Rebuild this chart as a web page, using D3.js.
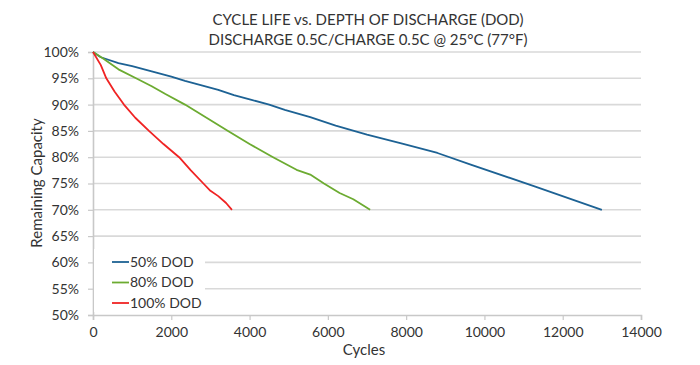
<!DOCTYPE html>
<html>
<head>
<meta charset="utf-8">
<script src="https://cdn.jsdelivr.net/npm/d3@7"></script>
<style>
  body { margin: 0; background: #fff; }
  text { font-family: Lato, "DejaVu Sans Condensed", sans-serif; fill: #333; }
</style>
</head>
<body>
<div id="chart"></div>
<script>
// DATA
const seriesNames = ["50% DOD", "80% DOD", "100% DOD"];
const seriesColors = ["#1d6294", "#6cab31", "#f02323"];

const dod50 = [
  [0, 100], [200, 99], [650, 97.9], [1000, 97.3], [1500, 96.3], [2000, 95.3],
  [2350, 94.5], [2800, 93.6], [3200, 92.8], [3600, 91.8], [4050, 90.9], [4500, 90],
  [4900, 89], [5550, 87.6], [6200, 86], [7000, 84.3], [7900, 82.6], [8800, 80.8],
  [9650, 78.6], [11300, 74.4], [13000, 70]
];
const dod80 = [
  [0, 100], [250, 98.8], [650, 96.7], [1100, 95], [1500, 93.5], [1850, 92],
  [2350, 90], [2900, 87.5], [3450, 85], [4000, 82.5], [4600, 80], [5200, 77.6],
  [5550, 76.7], [5900, 75], [6300, 73.2], [6650, 72], [7080, 70]
];
const dod100 = [
  [0, 100], [200, 97.5], [340, 95], [550, 92.5], [790, 90], [1080, 87.5],
  [1430, 85], [1800, 82.5], [2200, 80], [2500, 77.5], [2820, 75], [3000, 73.6],
  [3200, 72.6], [3400, 71.3], [3550, 70]
];
const xTicks = [0, 2000, 4000, 6000, 8000, 10000, 12000, 14000];
const yTicks = [50, 55, 60, 65, 70, 75, 80, 85, 90, 95, 100];
const titleLines = ["CYCLE LIFE vs. DEPTH OF DISCHARGE (DOD)", "DISCHARGE 0.5C/CHARGE 0.5C @ 25°C (77°F)"];

// SIZES
const width = 700, height = 365;
const margin = {top: 52, right: 59, bottom: 50, left: 93};
const innerWidth = width - margin.left - margin.right;
const innerHeight = height - margin.top - margin.bottom;

const svg = d3.select("#chart").append("svg")
  .attr("width", width)
  .attr("height", height);

// titles
svg.selectAll("text.title")
  .data(titleLines)
  .join("text")
  .attr("class", "title")
  .attr("x", 368)
  .attr("y", (d, i) => 25 + i * 20)
  .attr("text-anchor", "middle")
  .attr("font-size", 15)
  .text(d => d);

const g = svg.append("g")
  .attr("transform", "translate(" + margin.left + "," + margin.top + ")");

// SCALES
const x = d3.scaleLinear().domain([0, 14000]).range([0, innerWidth]);
const y = d3.scaleLinear().domain([50, 100]).range([innerHeight, 0]);

// gridlines
g.selectAll("line.grid")
  .data(yTicks.filter(d => d > 50))
  .join("line")
  .attr("class", "grid")
  .attr("x1", 0).attr("x2", innerWidth)
  .attr("y1", d => y(d)).attr("y2", d => y(d))
  .attr("stroke", "#d9d9d9")
  .attr("stroke-width", 1.6);

// axes
const yAxis = g.append("g")
  .call(d3.axisLeft(y).tickValues(yTicks).tickFormat(d => d + "%").tickSize(5).tickPadding(9));
const xAxis = g.append("g")
  .attr("transform", "translate(0," + innerHeight + ")")
  .call(d3.axisBottom(x).tickValues(xTicks).tickFormat(d3.format("d")).tickSize(5).tickPadding(7));

[yAxis, xAxis].forEach(a => {
  a.attr("font-family", "Lato, sans-serif").attr("font-size", 14);
  a.select(".domain").attr("stroke", "#c8c8c8").attr("stroke-width", 1.6);
  a.selectAll(".tick line").attr("stroke", "#c8c8c8").attr("stroke-width", 1.2);
  a.selectAll(".tick text").attr("fill", "#333");
});

// axis titles
svg.append("text")
  .attr("x", 364).attr("y", 355)
  .attr("text-anchor", "middle")
  .attr("font-size", 15)
  .text("Cycles");
svg.append("text")
  .attr("transform", "translate(42,183) rotate(-90)")
  .attr("text-anchor", "middle")
  .attr("font-size", 15)
  .text("Remaining Capacity");

// LINES
const line = d3.line().x(d => x(d[0])).y(d => y(d[1]));
const allSeries = [dod50, dod80, dod100];
g.selectAll("path.series")
  .data(allSeries)
  .join("path")
  .attr("class", "series")
  .attr("d", line)
  .attr("fill", "none")
  .attr("stroke", (d, i) => seriesColors[i])
  .attr("stroke-width", 1.8)
  .attr("stroke-linejoin", "round");

// legend
const legend = g.append("g").attr("transform", "translate(1,197)");
legend.append("rect")
  .attr("width", 111).attr("height", 63)
  .attr("fill", "#fff");
const item = legend.selectAll("g.item")
  .data(seriesNames)
  .join("g")
  .attr("class", "item")
  .attr("transform", (d, i) => "translate(0," + (13 + i * 20.5) + ")");
item.append("line")
  .attr("x1", 18).attr("x2", 35)
  .attr("stroke", (d, i) => seriesColors[i])
  .attr("stroke-width", 1.8);
item.append("text")
  .attr("x", 36).attr("dy", "0.35em")
  .attr("font-size", 14)
  .text(d => d);
</script>
</body>
</html>
